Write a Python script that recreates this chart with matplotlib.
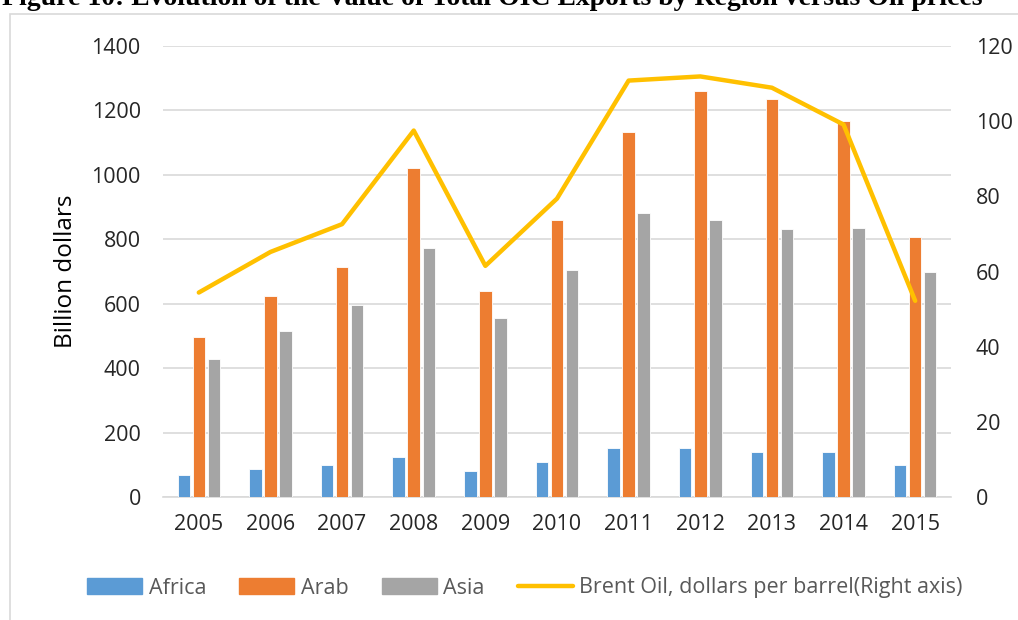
import matplotlib
matplotlib.use("Agg")
import matplotlib.pyplot as plt
import numpy as np
from matplotlib.patches import Rectangle
from matplotlib.lines import Line2D
from matplotlib.patches import Patch

years = ["2005", "2006", "2007", "2008", "2009", "2010", "2011", "2012", "2013", "2014", "2015"]
africa = [69, 86, 98, 123, 81, 110, 151, 151, 141, 141, 98]
arab = [498, 624, 714, 1022, 641, 861, 1133, 1260, 1237, 1166, 806]
asia = [427, 515, 595, 773, 557, 705, 883, 861, 832, 836, 697]
brent = [54.4, 65.2, 72.6, 97.5, 61.5, 79.4, 110.8, 111.9, 108.9, 99.1, 52.2]

left_ticks = [0, 200, 400, 600, 800, 1000, 1200, 1400]
right_ticks = [0, 20, 40, 60, 80, 100, 120]

FONT = "Open Sans"
TXT = "#262626"
plt.rcParams['font.family'] = [FONT, 'DejaVu Sans']

fig = plt.figure(figsize=(10.18, 6.2), dpi=100)
ax = fig.add_axes([163/1018, 1-497/620, (951-163)/1018, (497-46)/620])

x = np.arange(len(years))
w = 0.175
off = 0.21
c_af, c_ar, c_as = "#5B9BD5", "#ED7D31", "#A5A5A5"
ax.bar(x - off, africa, w, color=c_af, edgecolor="white", linewidth=0.6, zorder=3)
ax.bar(x, arab, w, color=c_ar, edgecolor="white", linewidth=0.6, zorder=3)
ax.bar(x + off, asia, w, color=c_as, edgecolor="white", linewidth=0.6, zorder=3)

ax.set_xlim(-0.5, len(years) - 0.5)
ax.set_ylim(0, 1400)
ax.set_yticks(left_ticks)
ax.set_xticks(x)
ax.set_xticklabels(years)
ax.yaxis.grid(True, color="#D9D9D9", linewidth=1.2, zorder=0)
ax.set_axisbelow(True)
for s in ["top", "right", "left"]:
    ax.spines[s].set_visible(False)
ax.spines["bottom"].set_color("#D9D9D9")
ax.spines["bottom"].set_linewidth(1.2)
ax.tick_params(axis="both", length=0, labelsize=15.5, colors=TXT)
ax.tick_params(axis="x", pad=12)
ax.tick_params(axis="y", pad=16)
ax.set_ylabel("Billion dollars", fontsize=17.5, color="#000000", labelpad=10)

ax2 = ax.twinx()
ax2.plot(x, brent, color="#FFC000", linewidth=3.2, solid_joinstyle="round", solid_capstyle="round", zorder=4)
ax2.set_ylim(0, 120)
ax2.set_yticks(right_ticks)
for s in ["top", "right", "left", "bottom"]:
    ax2.spines[s].set_visible(False)
ax2.tick_params(axis="y", length=0, labelsize=15.5, colors=TXT, pad=18)

handles = [Patch(color=c_af), Patch(color=c_ar), Patch(color=c_as),
           Line2D([0], [0], color="#FFC000", linewidth=3.2, solid_capstyle="round")]
labels = ["Africa", "Arab", "Asia", "Brent Oil, dollars per barrel(Right axis)"]
leg = fig.legend(handles, labels, loc="center", bbox_to_anchor=(525/1018, 1-588/620), ncol=4,
                 frameon=False, fontsize=15.5, handlelength=2.55, handleheight=0.7,
                 columnspacing=1.55, handletextpad=0.3)
for t in leg.get_texts():
    t.set_color("#595959")

# chart frame
fig.patches.append(Rectangle((10/1018, -0.1), 1.1, 1-14/620+0.1, transform=fig.transFigure,
                             fill=False, edgecolor="#D9D9D9", linewidth=1.2))

fig.text(492/1018, 1-11/620, "Figure 10: Evolution of the Value of Total OIC Exports by Region versus Oil prices",
         ha="center", va="bottom", fontsize=20, fontweight="bold", family="Liberation Serif", color="#000000")

fig.savefig("out.png", dpi=100)
